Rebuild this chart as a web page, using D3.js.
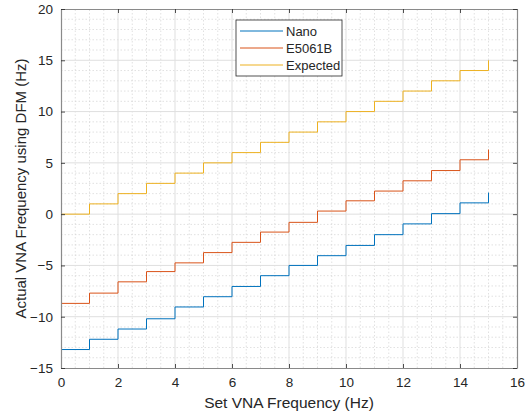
<!DOCTYPE html>
<html>
<head>
<meta charset="utf-8">
<script src="https://cdn.jsdelivr.net/npm/d3@7"></script>
<style>
  body { margin: 0; background: #fff; }
  svg text { font-family: "Liberation Sans", Arial, sans-serif; fill: #262626; }
</style>
</head>
<body>
<div id="chart"></div>
<script>
// set frequencies (Hz)
const setFreq = d3.range(0, 16);
// measured / expected frequencies
const nano = [-13.2, -12.2, -11.2, -10.2, -9.05, -8.05, -7.05, -6.0, -5.0, -4.05, -3.05, -2.0, -0.95, 0.05, 1.1, 2.1];
const e5061b = [-8.7, -7.7, -6.6, -5.6, -4.75, -3.75, -2.75, -1.75, -0.8, 0.3, 1.3, 2.25, 3.25, 4.25, 5.3, 6.3];
const expected = [0, 1, 2, 3, 4, 5, 6, 7, 8, 9, 10, 11, 12, 13, 14, 15];
const seriesNames = ["Nano", "E5061B", "Expected"];
const seriesColors = ["#0072BD", "#D95319", "#EDB120"];
const xTicks = [0, 2, 4, 6, 8, 10, 12, 14, 16];
const yTicks = [-15, -10, -5, 0, 5, 10, 15, 20];

let width = 529, height = 415;
let margin = {left: 61, right: 12, top: 9, bottom: 47};

let x = d3.scaleLinear().domain([0, 16]).range([margin.left, width - margin.right]);
let y = d3.scaleLinear().domain([-15, 20]).range([height - margin.bottom, margin.top]);

let svg = d3.select('#chart')
    .append('svg')
    .attr('width', width)
    .attr('height', height);

// minor grid
let g = svg.append('g');
g.selectAll('.xminor')
    .data(d3.range(0.5, 16, 0.5).filter(v => v % 2 !== 0))
    .enter().append('line')
    .attr('x1', d => x(d)).attr('x2', d => x(d))
    .attr('y1', y(-15)).attr('y2', y(20))
    .attr('stroke', '#d4d4d4').attr('stroke-width', 0.7).attr('stroke-dasharray', '1.5,2');
g.selectAll('.yminor')
    .data(d3.range(-14, 20, 1).filter(v => v % 5 !== 0))
    .enter().append('line')
    .attr('x1', x(0)).attr('x2', x(16))
    .attr('y1', d => y(d)).attr('y2', d => y(d))
    .attr('stroke', '#d4d4d4').attr('stroke-width', 0.7).attr('stroke-dasharray', '1.5,2');

// major grid
g.selectAll('.xmajor')
    .data(xTicks.slice(1, -1))
    .enter().append('line')
    .attr('x1', d => x(d)).attr('x2', d => x(d))
    .attr('y1', y(-15)).attr('y2', y(20))
    .attr('stroke', '#dfdfdf').attr('stroke-width', 1);
g.selectAll('.ymajor')
    .data(yTicks.slice(1, -1))
    .enter().append('line')
    .attr('x1', x(0)).attr('x2', x(16))
    .attr('y1', d => y(d)).attr('y2', d => y(d))
    .attr('stroke', '#dfdfdf').attr('stroke-width', 1);

// stairs
let line = d3.line()
    .x(d => x(d[0]))
    .y(d => y(d[1]))
    .curve(d3.curveStepAfter);

[nano, e5061b, expected].forEach((vals, i) => {
    svg.append('path')
        .datum(setFreq.map((f, k) => [f, vals[k]]))
        .attr('d', line)
        .attr('fill', 'none')
        .attr('stroke', seriesColors[i])
        .attr('stroke-width', 1);
});

// axes (box on, ticks inside)
let axisColor = '#262626';
let xb = svg.append('g').attr('transform', 'translate(0,' + y(-15) + ')')
    .call(d3.axisBottom(x).tickValues(xTicks).tickSizeInner(-4).tickSizeOuter(0).tickPadding(9));
let xt = svg.append('g').attr('transform', 'translate(0,' + y(20) + ')')
    .call(d3.axisTop(x).tickValues(xTicks).tickSizeInner(-4).tickSizeOuter(0).tickFormat(''));
let yl = svg.append('g').attr('transform', 'translate(' + x(0) + ',0)')
    .call(d3.axisLeft(y).tickValues(yTicks).tickSizeInner(-4).tickSizeOuter(0).tickPadding(8));
let yr = svg.append('g').attr('transform', 'translate(' + x(16) + ',0)')
    .call(d3.axisRight(y).tickValues(yTicks).tickSizeInner(-4).tickSizeOuter(0).tickFormat(''));

[xb, xt, yl, yr].forEach(a => {
    a.select('.domain').attr('stroke', '#8a8a8a').attr('stroke-width', 1.2);
    a.selectAll('.tick line').attr('stroke', axisColor).attr('stroke-width', 0.8);
    a.selectAll('.tick text').attr('font-size', 13.5).style('fill', axisColor);
});

// axis labels
svg.append('text')
    .attr('x', (x(0) + x(16)) / 2)
    .attr('y', 408)
    .attr('text-anchor', 'middle')
    .attr('font-size', 15.5)
    .text('Set VNA Frequency (Hz)');
svg.append('text')
    .attr('transform', 'translate(26,' + (y(-15) + y(20)) / 2 + ') rotate(-90)')
    .attr('text-anchor', 'middle')
    .attr('font-size', 15)
    .text('Actual VNA Frequency using DFM (Hz)');

// legend
let lg = svg.append('g').attr('transform', 'translate(236,20)');
lg.append('rect')
    .attr('width', 106).attr('height', 56)
    .attr('fill', '#fff')
    .attr('stroke', axisColor).attr('stroke-width', 0.8);
seriesNames.forEach((name, i) => {
    let row = lg.append('g').attr('transform', 'translate(0,' + (11 + i * 17) + ')');
    row.append('line')
        .attr('x1', 4).attr('x2', 47)
        .attr('stroke', seriesColors[i]).attr('stroke-width', 1);
    row.append('text')
        .attr('x', 50).attr('dy', '0.35em')
        .attr('font-size', 13)
        .text(name);
});
</script>
</body>
</html>
